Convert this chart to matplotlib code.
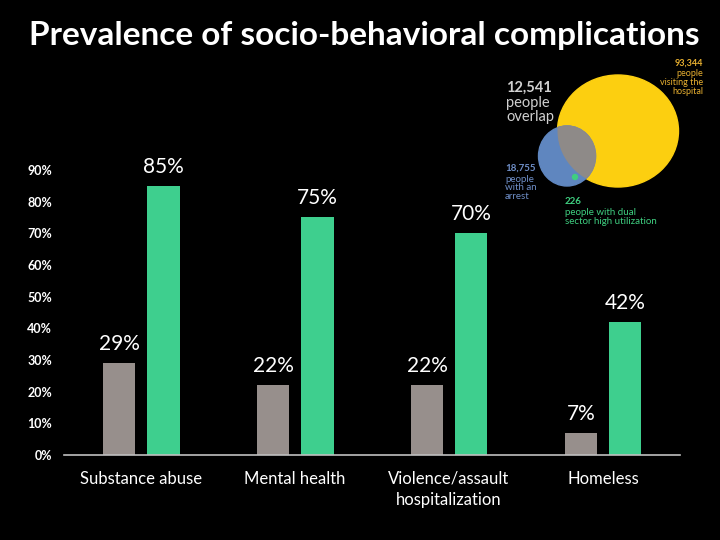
import matplotlib
matplotlib.use("Agg")
import matplotlib.pyplot as plt
from matplotlib.patches import Ellipse
import numpy as np

# data
categories = ["Substance abuse", "Mental health", "Violence/assault\nhospitalization", "Homeless"]
gray_vals = [29, 22, 22, 7]
green_vals = [85, 75, 70, 42]
y_ticks = [0, 10, 20, 30, 40, 50, 60, 70, 80, 90]

# venn inset numbers
venn_hospital = "93,344"
venn_arrest = "18,755"
venn_overlap = "12,541"
venn_dual = "226"

GRAY = "#978f8c"
GREEN = "#3ecf8e"
FONT = "Lato"

fig = plt.figure(figsize=(7.2, 5.4), dpi=100, facecolor="black")

# main bar axes
ax = fig.add_axes([64 / 720, 1 - 455 / 540, 616 / 720, 285 / 540])
ax.set_facecolor("black")
x = np.arange(len(categories))
off = 0.143
w = 0.214
ax.bar(x - off, gray_vals, w, color=GRAY)
ax.bar(x + off, green_vals, w, color=GREEN)

for xi, v in zip(x - off, gray_vals):
    ax.text(xi, v + 6, f"{v}%", ha="center", va="center", color="white",
            fontsize=15, family=FONT, clip_on=False)
for xi, v in zip(x + off, green_vals):
    ax.text(xi, v + 6, f"{v}%", ha="center", va="center", color="white",
            fontsize=15, family=FONT, clip_on=False)

ax.set_xlim(-0.5, 3.5)
ax.set_ylim(0, 90)
ax.set_yticks(y_ticks)
ax.set_yticklabels([f"{t}%" for t in y_ticks], color="white", fontsize=9,
                   fontweight="bold", family=FONT)
ax.tick_params(axis="y", length=0, pad=8.5)
ax.set_xticks(x)
ax.set_xticklabels(categories, color="white", fontsize=12, family=FONT,
                   linespacing=1.4, va="top")
ax.tick_params(axis="x", length=0, pad=11.5)
for s in ["top", "right", "left"]:
    ax.spines[s].set_visible(False)
ax.spines["bottom"].set_color("#bfbfbf")
ax.spines["bottom"].set_linewidth(1.2)

fig.text(364 / 720, 1 - 35 / 540, "Prevalence of socio-behavioral complications",
         ha="center", va="center", color="white", fontsize=24, fontweight="bold",
         family=FONT)

# venn inset in pixel coords
vx = fig.add_axes([0, 0, 1, 1])
vx.set_xlim(0, 720)
vx.set_ylim(540, 0)
vx.axis("off")
vx.patch.set_alpha(0)

big = Ellipse((618, 131), 121, 112, color="#fccf10", zorder=1)
small = Ellipse((567, 156), 57, 60, color="#5f86bf", zorder=2)
overlap = Ellipse((567, 156), 57, 60, color="#8e8a88", zorder=3)
vx.add_patch(big)
vx.add_patch(small)
vx.add_patch(overlap)
overlap.set_clip_path(big)
vx.add_patch(Ellipse((575, 177), 5, 5, color="#3fcf80", zorder=4))

vx.text(506, 88, venn_overlap, color="#d0d0d0", fontsize=10.5, fontweight="bold",
        family=FONT, va="center", ha="left")
vx.text(506, 110, "people\noverlap", color="#d0d0d0", fontsize=10.5, family=FONT,
        va="center", ha="left", linespacing=1.05)

vx.text(703, 63, venn_hospital, color="#e8b030", fontsize=6.5, fontweight="bold",
        family=FONT, va="center", ha="right")
vx.text(703, 82.5, "people\nvisiting the\nhospital", color="#e8b030", fontsize=6.5,
        family=FONT, va="center", ha="right", linespacing=0.95)

vx.text(505, 168, venn_arrest, color="#6f8fc8", fontsize=7, fontweight="bold",
        family=FONT, va="center", ha="left")
vx.text(505, 188, "people\nwith an\narrest", color="#6f8fc8", fontsize=7,
        family=FONT, va="center", ha="left", linespacing=0.95)

vx.text(565, 202, venn_dual, color="#3fcf80", fontsize=7, fontweight="bold",
        family=FONT, va="center", ha="left")
vx.text(565, 217, "people with dual\nsector high utilization", color="#3fcf80",
        fontsize=7, family=FONT, va="center", ha="left", linespacing=0.95)

fig.savefig("out.png", dpi=100, facecolor="black")
